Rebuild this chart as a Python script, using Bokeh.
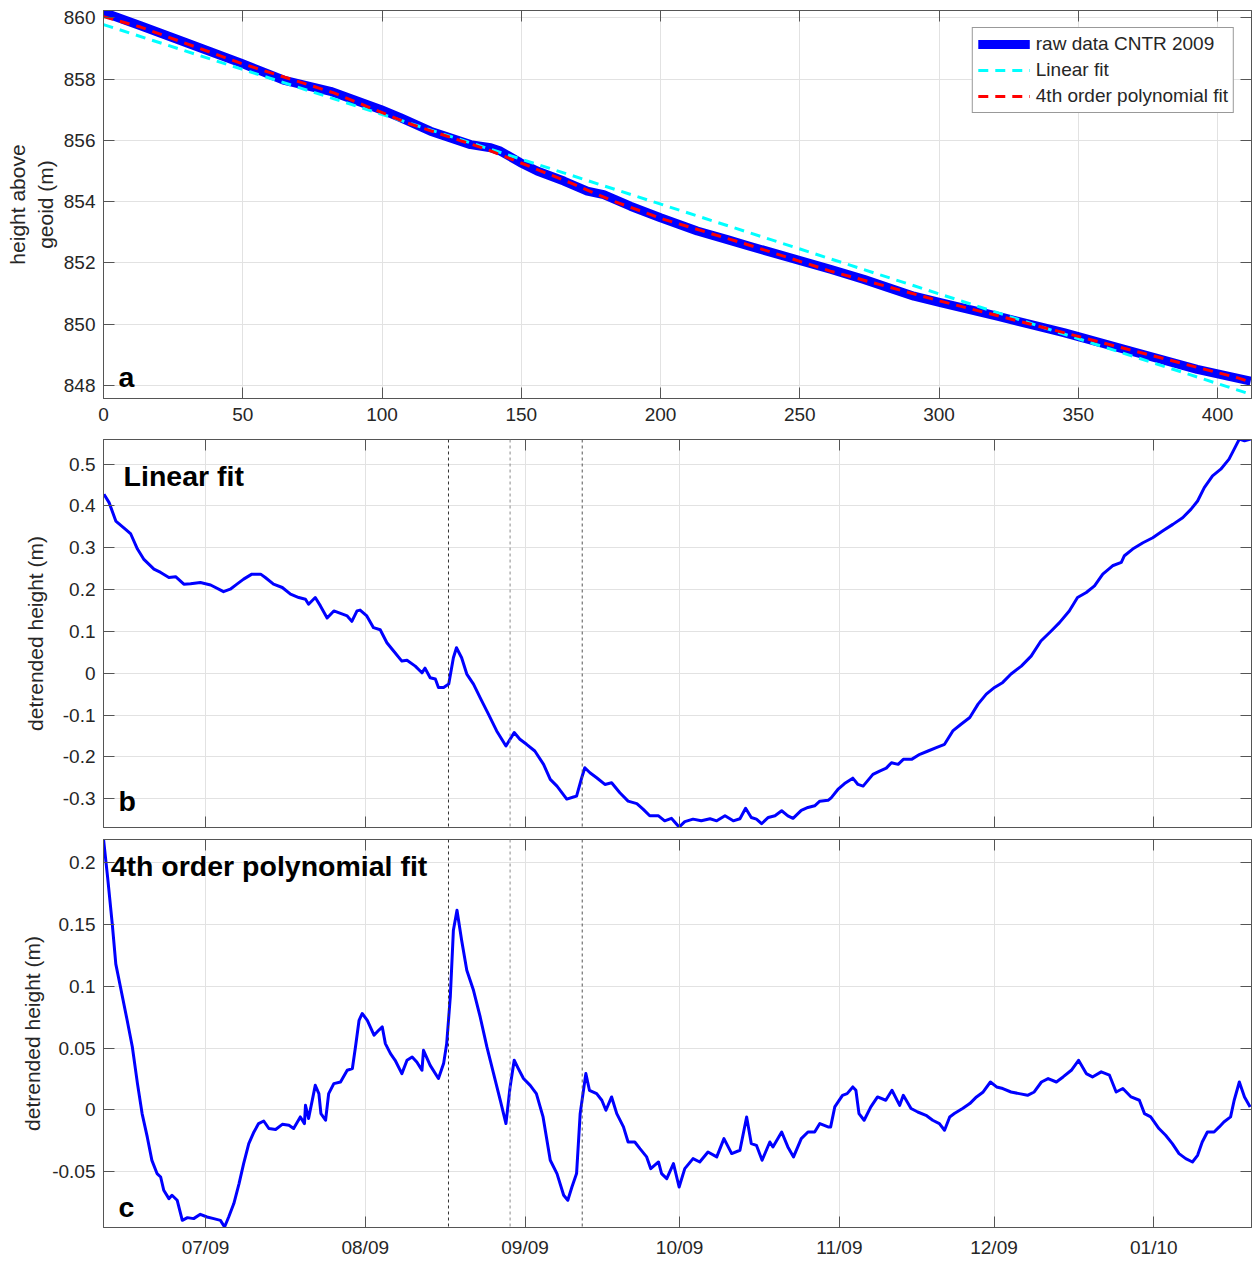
import numpy as np
from bokeh.plotting import figure
from bokeh.layouts import column
from bokeh.models import (Range1d, LinearAxis, DatetimeAxis, SingleIntervalTicker, FixedTicker,
                          MonthsTicker, DatetimeTickFormatter, CustomJSTickFormatter, Span, Label,
                          Legend, LegendItem, CustomLabelingPolicy)
from bokeh.embed import file_html
from bokeh.resources import INLINE

FONT = "Liberation Sans"
TXT = "#262626"
AX = "#555555"
GRID = "#e2e2e2"

# ---------------- data: panel a (along-record index vs height) ----------------
a_raw_x = [0, 13.3, 30, 49.2, 64.6, 81.5, 99.5, 106.6, 117.4, 131.8, 139.0, 142.5, 149.7, 155.7,
           165.3, 173.7, 179.6, 189.2, 200, 213.2, 224, 231.7, 261, 273, 291, 300.5, 320.9,
           344.8, 368.8, 392.7, 411.9]
a_raw_y = [860.18, 859.74, 859.18, 858.53, 857.97, 857.60, 857.01, 856.74, 856.30, 855.86, 855.76,
           855.65, 855.27, 855.00, 854.67, 854.34, 854.23, 853.85, 853.47, 853.04, 852.76, 852.55,
           851.79, 851.46, 850.91, 850.70, 850.26, 849.72, 849.12, 848.52, 848.14]
a_lin_x = [0, 412.2]
a_lin_y = [859.78, 847.70]
a_poly_x = [0, 13.3, 49.2, 82.7, 109, 137.8, 152.1, 167.7, 183.2, 201.2, 231.1, 261, 300.5,
            344.8, 407, 412.2]
a_poly_y = [860.04, 859.70, 858.52, 857.55, 856.57, 855.70, 855.18, 854.61, 854.01, 853.42,
            852.60, 851.73, 850.75, 849.72, 848.25, 848.10]
a_yticks = [848, 850, 852, 854, 856, 858, 860]

# ---------------- data: panels b, c (days since 2009-06-01) ----------------
b_day = [10.3, 11.3, 12.6, 14.5, 15.5, 16.8, 18.0, 20.0, 21.3, 22.9, 24.2, 25.8, 27.1, 29.0, 31.0,
         33.5, 34.8, 36.1, 37.4, 39.0, 40.7, 41.6, 43.2, 44.9, 46.5, 48.1, 49.4, 50.0, 51.3, 52.3,
         53.6, 54.9, 56.2, 57.5, 58.4, 59.4, 60.0, 61.3, 62.6, 63.9, 65.2, 66.5, 68.1, 69.1, 70.7,
         72.0, 72.6, 73.6, 74.6, 75.2, 76.2, 77.2, 78.1, 78.7, 79.7, 80.7, 82.0, 83.6, 84.9, 86.5,
         88.3, 89.1, 89.9, 91.0, 92.3, 93.9, 95.6, 96.9, 98.2, 100.1, 101.4, 102.0, 103.0, 103.6,
         104.6, 105.9, 107.5, 108.8, 110.4, 112.0, 113.7, 114.9, 116.2, 117.9, 119.1, 120.4, 121.9,
         123.0, 124.6, 126.2, 127.9, 129.2, 130.8, 132.4, 133.7, 134.8, 135.9, 136.9, 137.9, 139.2,
         140.5, 141.8, 143.0, 144.0, 145.6, 146.9, 148.2, 149.2, 150.8, 151.4, 152.7, 154.0, 155.6,
         156.6, 157.6, 159.5, 160.8, 162.1, 163.1, 164.4, 165.4, 167.0, 168.6, 170.2, 171.8, 173.4,
         175.0, 176.6, 178.3, 179.9, 181.5, 183.1, 184.7, 186.3, 188.3, 190.2, 192.1, 194.1, 195.7,
         197.6, 199.2, 200.9, 202.5, 204.1, 206.0, 207.7, 208.3, 209.9, 211.9, 213.8, 215.7, 217.7,
         219.6, 221.2, 222.5, 223.8, 225.4, 227.0, 228.6, 229.6, 230.6, 231.6, 232.8]
b_val = [0.428, 0.408, 0.364, 0.344, 0.333, 0.297, 0.273, 0.249, 0.241, 0.229, 0.231, 0.213, 0.214,
         0.217, 0.211, 0.195, 0.201, 0.213, 0.225, 0.237, 0.237, 0.229, 0.213, 0.205, 0.189, 0.181,
         0.177, 0.165, 0.181, 0.161, 0.132, 0.149, 0.143, 0.137, 0.124, 0.149, 0.151, 0.137, 0.109,
         0.104, 0.073, 0.053, 0.029, 0.031, 0.017, 0.001, 0.012, -0.011, -0.014, -0.034, -0.034,
         -0.026, 0.037, 0.061, 0.037, -0.002, -0.026, -0.066, -0.098, -0.138, -0.174, -0.158,
         -0.142, -0.158, -0.170, -0.186, -0.218, -0.254, -0.270, -0.301, -0.296, -0.294, -0.250,
         -0.226, -0.238, -0.250, -0.266, -0.262, -0.286, -0.306, -0.312, -0.325, -0.341, -0.341,
         -0.353, -0.347, -0.368, -0.355, -0.349, -0.353, -0.348, -0.353, -0.341, -0.353, -0.348,
         -0.323, -0.345, -0.349, -0.360, -0.345, -0.341, -0.329, -0.341, -0.347, -0.328, -0.321,
         -0.317, -0.306, -0.304, -0.298, -0.278, -0.264, -0.251, -0.266, -0.270, -0.242, -0.234,
         -0.227, -0.214, -0.218, -0.206, -0.206, -0.194, -0.186, -0.178, -0.170, -0.138, -0.122,
         -0.106, -0.074, -0.050, -0.034, -0.022, -0.002, 0.017, 0.041, 0.077, 0.101, 0.121, 0.149,
         0.181, 0.193, 0.209, 0.237, 0.257, 0.265, 0.281, 0.297, 0.312, 0.324, 0.340, 0.356, 0.372,
         0.392, 0.412, 0.444, 0.472, 0.488, 0.512, 0.536, 0.560, 0.556, 0.560]

c_day = [10.2, 11.0, 11.9, 12.6, 13.5, 14.8, 15.8, 16.8, 17.7, 18.7, 19.6, 20.6, 21.3, 21.9, 22.9,
         23.5, 24.5, 25.5, 26.5, 27.7, 29.0, 30.3, 31.6, 32.9, 33.7, 34.5, 35.5, 36.5, 37.4, 38.4,
         39.4, 40.3, 41.3, 42.3, 43.6, 44.9, 46.2, 47.1, 48.4, 49.2, 49.4, 50.0, 51.3, 52.0, 52.4,
         53.3, 53.9, 54.9, 56.2, 57.5, 58.5, 59.1, 59.8, 60.4, 61.4, 62.7, 63.6, 64.3, 64.9, 65.9,
         66.8, 68.1, 69.1, 70.1, 71.0, 72.0, 72.3, 73.6, 75.2, 76.2, 76.8, 77.5, 78.1, 78.8, 79.7,
         80.7, 82.0, 83.3, 84.6, 85.9, 87.2, 88.3, 89.1, 89.9, 90.7, 91.7, 93.0, 94.2, 95.5, 96.9,
         98.2, 99.5, 100.3, 101.1, 102.0, 102.7, 103.8, 104.5, 105.9, 106.9, 107.7, 108.8, 109.8,
         111.1, 112.0, 113.3, 114.3, 115.6, 116.4, 117.9, 118.5, 119.5, 120.8, 121.9, 123.0, 124.6,
         125.9, 127.5, 129.2, 130.6, 132.1, 133.7, 135.0, 135.9, 136.9, 138.0, 139.5, 140.1, 141.8,
         143.0, 144.1, 145.6, 146.9, 148.2, 149.2, 150.8, 151.3, 152.1, 153.6, 154.5, 155.6, 156.2,
         156.8, 157.8, 159.1, 160.4, 162.0, 163.2, 164.7, 165.4, 166.9, 168.2, 169.8, 171.1, 172.4,
         173.4, 174.4, 175.3, 176.9, 178.3, 179.6, 180.9, 182.3, 183.5, 184.7, 186.3, 187.9, 189.5,
         190.8, 192.2, 193.5, 195.1, 196.4, 198.0, 199.4, 200.9, 202.1, 203.8, 205.4, 206.7, 208.0,
         209.6, 211.2, 212.2, 213.4, 215.0, 216.3, 217.6, 218.9, 220.2, 221.5, 222.5, 223.4, 224.4,
         225.7, 226.7, 227.6, 228.9, 229.6, 230.6, 231.6, 232.7]
c_val = [0.2198, 0.1887, 0.151, 0.118, 0.0995, 0.0725, 0.051, 0.0212, -0.0031, -0.022, -0.041,
         -0.0517, -0.0545, -0.0652, -0.072, -0.0693, -0.0733, -0.0896, -0.0874, -0.0882, -0.0847,
         -0.0869, -0.0882, -0.0896, -0.095, -0.0869, -0.076, -0.060, -0.0436, -0.0274, -0.018,
         -0.0112, -0.0091, -0.0152, -0.016, -0.0118, -0.0126, -0.0152, -0.0058, -0.0112, 0.0036,
         -0.0071, 0.0198, 0.0131, -0.0031, -0.0085, 0.0131, 0.0212, 0.0225, 0.032, 0.0334, 0.0509,
         0.0725, 0.078, 0.0725, 0.0604, 0.0644, 0.0671, 0.0536, 0.0455, 0.0401, 0.0293, 0.0401,
         0.0428, 0.0387, 0.032, 0.0482, 0.036, 0.0253, 0.0374, 0.0536, 0.0914, 0.1455, 0.1617,
         0.1374, 0.113, 0.0968, 0.0752, 0.0509, 0.0293, 0.0077, -0.0112, 0.0185, 0.0401, 0.0334,
         0.0253, 0.0198, 0.0131, -0.0058, -0.0409, -0.0517, -0.0693, -0.0733, -0.0626, -0.0517,
         -0.0031, 0.0293, 0.0158, 0.0131, 0.0077, -0.0004, 0.0104, -0.0031, -0.0139, -0.0261,
         -0.0261, -0.0315, -0.0382, -0.0477, -0.0423, -0.0517, -0.0558, -0.0436, -0.0626, -0.0477,
         -0.0396, -0.0423, -0.0342, -0.0382, -0.0234, -0.0355, -0.0328, -0.0058, -0.0274, -0.0288,
         -0.0409, -0.0261, -0.0301, -0.018, -0.0301, -0.0382, -0.0234, -0.018, -0.018, -0.0112,
         -0.0139, -0.0139, 0.0023, 0.0117, 0.0131, 0.0185, 0.0158, -0.0031, -0.0085, 0.0023, 0.0104,
         0.0077, 0.0158, 0.0036, 0.0117, 0.001, -0.0018, -0.0045, -0.0085, -0.0112, -0.0166, -0.0058,
         -0.0031, 0.001, 0.005, 0.0104, 0.0144, 0.0225, 0.0185, 0.0172, 0.0144, 0.0131, 0.0117,
         0.0144, 0.0225, 0.0253, 0.0225, 0.0266, 0.032, 0.0401, 0.0293, 0.0266, 0.0307, 0.028,
         0.0144, 0.0172, 0.0104, 0.0077, -0.0031, -0.0058, -0.0152, -0.0207, -0.0274, -0.0355,
         -0.0396, -0.0423, -0.0369, -0.0261, -0.018, -0.018, -0.0139, -0.0099, -0.0058, 0.0077,
         0.0225, 0.0104, 0.0023]

event_days = [77.15, 89.1, 103.1]          # dotted vertical markers
event_colors = ["#333333", "#8a8a8a", "#555555"]
b_yticks = [-0.3, -0.2, -0.1, 0, 0.1, 0.2, 0.3, 0.4, 0.5]
c_yticks = [-0.05, 0, 0.05, 0.1, 0.15, 0.2]
day_start, day_end = 10.21, 232.96

BASE_MS = (np.datetime64("2009-06-01") - np.datetime64("1970-01-01")) / np.timedelta64(1, "ms")
DAY_MS = 86400000.0


def to_ms(days):
    return [BASE_MS + d * DAY_MS for d in days]


FW, FH = 1148, 388
LEFT = 103
num_fmt = CustomJSTickFormatter(code="return String(Number(tick.toFixed(3)));")
date_fmt = DatetimeTickFormatter(months="%m/%y", days="%m/%y", years="%m/%y")


def base_style(p):
    p.outline_line_color = AX
    p.outline_line_width = 1
    p.background_fill_color = "white"
    p.border_fill_color = "white"
    for g in (p.xgrid, p.ygrid):
        g.grid_line_color = GRID
        g.grid_line_width = 1
    for ax in p.xaxis + p.yaxis:
        ax.axis_line_color = AX
        ax.major_tick_line_color = AX
        ax.major_tick_in = 11
        ax.major_tick_out = 0
        ax.minor_tick_line_color = None
        ax.major_label_text_font = FONT
        ax.major_label_text_font_size = "19px"
        ax.major_label_text_color = TXT
        ax.axis_label_text_font = FONT
        ax.axis_label_text_font_size = "21px"
        ax.axis_label_text_font_style = "normal"
        ax.axis_label_text_color = TXT


def hide_labels(ax):
    ax.major_label_text_font_size = "0px"
    ax.major_label_standoff = 0
    ax.major_label_policy = CustomLabelingPolicy(
        code="for (const i of indices) { indices.unset(i) }\nreturn indices")


def mirror(ax):
    hide_labels(ax)
    ax.major_tick_in = 11
    ax.major_tick_out = 0
    ax.minor_tick_line_color = None
    ax.axis_line_color = AX
    ax.major_tick_line_color = AX
    return ax


def add_label(p, x, y, text):
    p.add_layout(Label(x=x, y=y, text=text, text_font=FONT, text_font_style="bold",
                       text_font_size="28.5px", text_color="black", text_baseline="alphabetic"))


# ---------------- panel a ----------------
pa = figure(frame_width=FW, frame_height=FH, output_backend="svg", toolbar_location=None,
            x_range=Range1d(0, 412.2), y_range=Range1d(847.57, 860.24),
            min_border_left=LEFT, min_border_right=1, min_border_top=10, min_border_bottom=30)
r_raw = pa.line(a_raw_x, a_raw_y, line_color="#0000ff", line_width=9, line_join="round")
r_lin = pa.line(a_lin_x, a_lin_y, line_color="#00ffff", line_width=3, line_dash="10 7")
r_poly = pa.line(a_poly_x, a_poly_y, line_color="#ff0000", line_width=3, line_dash="10 7")
pa.xaxis.ticker = SingleIntervalTicker(interval=50, num_minor_ticks=0)
pa.yaxis.ticker = FixedTicker(ticks=a_yticks)
pa.yaxis.axis_label = "height above\ngeoid (m)"
base_style(pa)
pa.xaxis.major_label_standoff = 9
pa.yaxis.major_label_standoff = 8
pa.yaxis.axis_label_standoff = 4
pa.add_layout(mirror(LinearAxis(ticker=FixedTicker(ticks=a_yticks))), "right")
pa.add_layout(mirror(LinearAxis(ticker=SingleIntervalTicker(interval=50, num_minor_ticks=0))), "above")
legend = Legend(items=[LegendItem(label="raw data CNTR 2009", renderers=[r_raw]),
                       LegendItem(label="Linear fit", renderers=[r_lin]),
                       LegendItem(label="4th order polynomial fit", renderers=[r_poly])],
                location="top_right")
legend.margin = 17
legend.padding = 5
legend.spacing = 4
legend.glyph_width = 52
legend.glyph_height = 20
legend.label_height = 20
legend.label_standoff = 6
legend.label_text_font = FONT
legend.label_text_font_size = "19px"
legend.label_text_color = TXT
legend.border_line_color = "#333333"
legend.border_line_width = 1
legend.background_fill_alpha = 1
pa.add_layout(legend)
add_label(pa, 5.4, 848.27, "a")

# ---------------- panel b ----------------
pb = figure(frame_width=FW, frame_height=FH, output_backend="svg", toolbar_location=None,
            x_axis_type="datetime",
            x_range=Range1d(to_ms([day_start])[0], to_ms([day_end])[0]),
            y_range=Range1d(-0.369, 0.559),
            min_border_left=LEFT, min_border_right=1, min_border_top=11, min_border_bottom=6)
pb.line(to_ms(b_day), b_val, line_color="#0000ff", line_width=3, line_join="round")
pb.xaxis.ticker = MonthsTicker(months=list(range(1, 13)))
pb.yaxis.ticker = FixedTicker(ticks=b_yticks)
pb.yaxis.formatter = num_fmt
pb.yaxis.axis_label = "detrended height (m)"
base_style(pb)
for ax in pb.xaxis:
    hide_labels(ax)
pb.yaxis.major_label_standoff = 8
pb.yaxis.axis_label_standoff = 13
pb.add_layout(mirror(LinearAxis(ticker=FixedTicker(ticks=b_yticks))), "right")
pb.add_layout(mirror(DatetimeAxis(ticker=MonthsTicker(months=list(range(1, 13))))), "above")
for d, col in zip(event_days, event_colors):
    pb.add_layout(Span(location=to_ms([d])[0], dimension="height", line_color=col,
                       line_width=1, line_dash="3 3"))
add_label(pb, to_ms([13.1])[0], -0.305, "b")
add_label(pb, to_ms([14.1])[0], 0.472, "Linear fit")

# ---------------- panel c ----------------
pc = figure(frame_width=FW, frame_height=FH, output_backend="svg", toolbar_location=None,
            x_axis_type="datetime",
            x_range=Range1d(to_ms([day_start])[0], to_ms([day_end])[0]),
            y_range=Range1d(-0.0954, 0.219),
            min_border_left=LEFT, min_border_right=1, min_border_top=6, min_border_bottom=30)
pc.line(to_ms(c_day), c_val, line_color="#0000ff", line_width=3, line_join="round")
pc.xaxis.ticker = MonthsTicker(months=list(range(1, 13)))
pc.xaxis.formatter = date_fmt
pc.yaxis.ticker = FixedTicker(ticks=c_yticks)
pc.yaxis.formatter = num_fmt
pc.yaxis.axis_label = "detrended height (m)"
base_style(pc)
pc.xaxis.major_label_standoff = 9
pc.yaxis.major_label_standoff = 8
pc.yaxis.axis_label_standoff = 5
pc.add_layout(mirror(LinearAxis(ticker=FixedTicker(ticks=c_yticks))), "right")
pc.add_layout(mirror(DatetimeAxis(ticker=MonthsTicker(months=list(range(1, 13))))), "above")
for d, col in zip(event_days, event_colors):
    pc.add_layout(Span(location=to_ms([d])[0], dimension="height", line_color=col,
                       line_width=1, line_dash="3 3"))
add_label(pc, to_ms([13.1])[0], -0.0788, "c")
add_label(pc, to_ms([11.6])[0], 0.1976, "4th order polynomial fit")

layout = column(pa, pb, pc, spacing=0)
open("out.html", "w").write(file_html(layout, INLINE))
